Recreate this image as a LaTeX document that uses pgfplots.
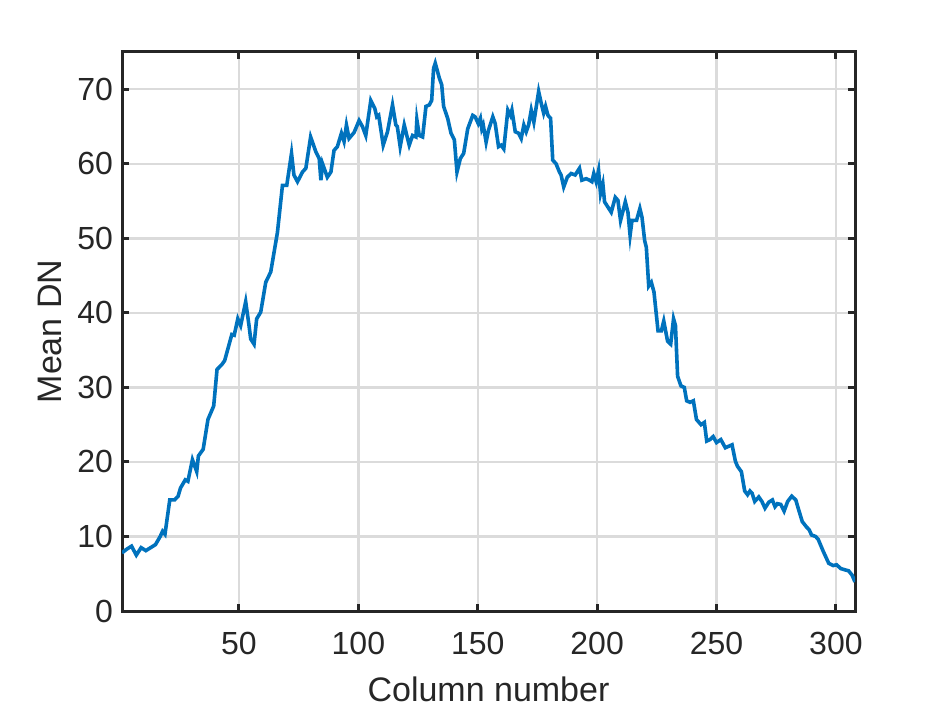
\documentclass[border=0pt]{standalone}
\usepackage{fontspec}
\setmainfont{Liberation Sans}
\usepackage{pgfplots}
\pgfplotsset{compat=1.18}
\definecolor{mblue}{rgb}{0,0.447,0.741}
\definecolor{maxis}{rgb}{0.15,0.15,0.15}

\begin{document}
\begin{tikzpicture}
\begin{axis}[
    scale only axis, width=366.5pt, height=279.5pt,
    xmin=1, xmax=308, ymin=0, ymax=75,
    xtick={50,100,...,300}, ytick={0,10,...,70},
    grid=major, major grid style={black!14, line width=1.2pt},
    axis line style={maxis, line width=1.5pt},
    tick style={maxis, line width=1.5pt}, major tick length=3.5pt,
    tick align=inside,
    font=\fontsize{17}{20}\selectfont,
    /pgf/number format/assume math mode=true,
    ticklabel style={font=\fontsize{16}{18}\selectfont, text=maxis},
    xticklabel style={yshift=-7pt},
    yticklabel style={xshift=-1pt},
    xlabel={Column number}, ylabel={Mean DN},
    label style={text=maxis},
    xlabel style={at={(axis description cs:0.5,-0.141)}, anchor=center},
    ylabel style={at={(axis description cs:-0.098,0.5)}, anchor=center},
]
\addplot[mblue, line width=1.8pt] coordinates {
(1,7.8) (3,8.3) (5,8.7) (7,7.5) (9,8.5) (11,8.1) (13,8.5) (15,8.9) (17,10) (18,10.7)
(19,10.3) (21,14.9) (23,14.9) (24.5,15.4) (25.5,16.5) (27.5,17.6) (28.6,17.4) (30.5,20.3)
(32.3,18.7) (33,20.8) (35,21.7) (37,25.7) (39.4,27.5) (40.8,32.4) (42.9,33.1) (44,33.6)
(47,37.1) (48,37) (49.5,39.2) (50.7,38.3) (52.8,41.5) (54.2,38.3) (54.9,36.5) (56.3,35.8)
(57.4,39.2) (59.1,40.1) (61.2,44.1) (63.3,45.5) (66.1,50.8) (68.2,57.1) (70,57.1) (72,61.4)
(73,58.5) (74.5,57.6) (76.6,58.9) (78,59.4) (80,63.6) (82.2,61.6) (83.6,60.7) (84.3,57.8)
(85,60) (87,58.2) (88.5,58.9) (89.8,61.8) (91.2,62.3) (92.9,64.1) (94,63) (95,65.2)
(96.1,63.4) (98.2,64.2) (100.3,65.8) (101.7,65) (103.1,63.8) (105.2,68.5) (106.9,67.4)
(107.7,66.3) (108.5,66.5) (110.4,62.5) (112.2,64.3) (114.3,67.9) (115.7,65.2) (116.3,65)
(117.5,62.3) (119.2,65.2) (121.3,62.5) (122.7,63.8) (124.1,63.6) (124.5,65.9) (125.5,63.8)
(126.9,63.6) (128.3,67.7) (129.7,67.9) (130.7,68.5) (131.5,72.8) (132.2,73.5) (133.9,71.5)
(134.9,70.6) (135.7,67.7) (137.4,66.1) (138.8,64.1) (140.2,63.2) (141.3,58.9) (142.7,60.7)
(144.1,61.4) (145.8,64.7) (147.9,66.5) (148.9,66.3) (150.2,65.4) (151.1,66.1) (151.7,64.7)
(152.3,65.2) (153.5,62.9) (154.5,64.5) (156.3,66.3) (157.3,65.4) (158.7,62.3) (159.8,62.5)
(160.9,62) (162.6,67.2) (163.7,66.5) (164.3,67.2) (165.7,64.3) (167.1,64.1) (168.2,63.4)
(169.3,65.2) (170.3,64.3) (171.3,65.2) (172.4,67.2) (173.5,65.6) (175.5,69.7) (176.6,68.1)
(177.6,66.8) (178.4,67.7) (179.4,66.5) (180.5,66.1) (181.4,60.5) (182.8,60) (184.2,58.9)
(184.9,58.5) (186,56.9) (187.5,58.2) (189.1,58.7) (190.8,58.5) (192.6,59.4) (193.6,57.8)
(195.4,58) (196.8,57.8) (197.8,57.6) (198.6,58.7) (199.6,57.6) (200.6,59.1) (201.4,56)
(202.4,57.3) (203.1,54.9) (204.5,54.2) (205.9,53.5) (207.6,55.5) (208.7,55.1) (209.8,52.4)
(211.8,54.9) (212.9,53.5) (213.8,50.4) (214.6,52.4) (216.5,52.4) (217.9,54) (218.8,52.8)
(219.9,49.7) (220.6,48.8) (221.6,43.6) (222.7,44.1) (223.8,42.8) (225.5,37.6) (226.9,37.6)
(227.9,38.9) (229.5,36.2) (230.8,35.8) (232,39.2) (232.8,38.3) (233.7,31.5) (235.1,30.2)
(236.5,30) (237.5,28.2) (238.9,28) (240.3,28.2) (241.6,25.7) (243.5,25) (244.9,25.3)
(245.9,22.8) (247.3,23) (248.6,23.4) (250,22.6) (251.8,23) (253.7,21.9) (255.1,22.1)
(256.5,22.3) (257.9,20.1) (258.8,19.4) (260.4,18.7) (261.8,16.1) (263,15.6) (264,16.1)
(264.9,15.8) (266,14.7) (267.7,15.3) (269,14.7) (270.3,13.8) (271.9,14.6) (273.4,14.9)
(274.5,14) (275.5,14.4) (276.9,14.3) (278.3,13.4) (279.8,14.7) (281.5,15.4) (283.2,14.9)
(284.2,13.8) (285.9,12) (287.6,11.3) (288.8,10.9) (289.8,10.2) (291.5,10) (292.6,9.6)
(294.7,8) (297,6.4) (298.9,6.1) (300.3,6.2) (302,5.7) (304,5.5) (305.3,5.4) (306.8,4.8)
(308,3.9)
};
\end{axis}
\path ([shift={(-61pt,-48.5pt)}]current axis.south west) rectangle ([shift={(45pt,26pt)}]current axis.north east);
\end{tikzpicture}
\end{document}
